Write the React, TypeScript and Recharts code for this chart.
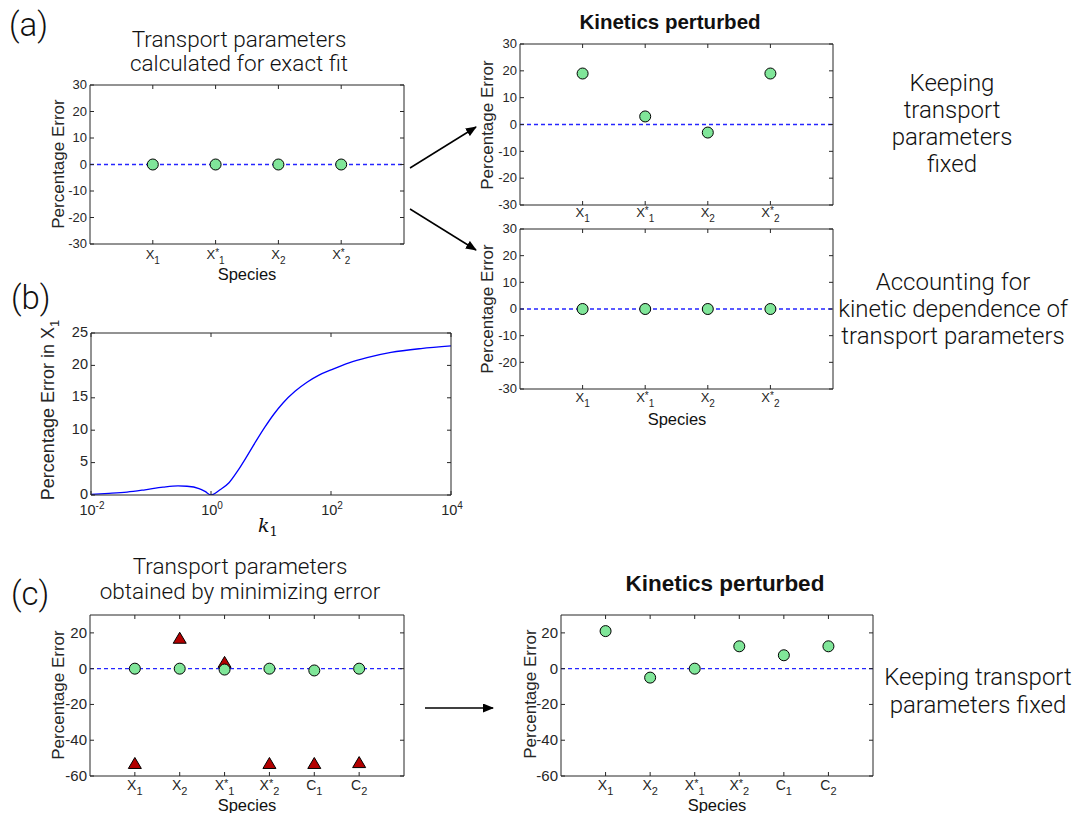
import React from 'react';
import { ComposedChart, Scatter, Line, XAxis, YAxis, ReferenceLine } from 'recharts';

// species labels ("_" separates the subscript, "*" is a superscript star)
const SPECIES_A = ['X_1', 'X*_1', 'X_2', 'X*_2'];
const SPECIES_C = ['X_1', 'X_2', 'X*_1', 'X*_2', 'C_1', 'C_2'];

// (a) percentage errors
const ERR_EXACT_FIT = [0, 0, 0, 0];
const ERR_FIXED_TRANSPORT = [19, 3, -3, 19];
const ERR_KINETIC_DEP = [0, 0, 0, 0];

// (b) percentage error in X1 vs k1 (log10 of k1)
const K1_EXP = [-2, -1.7, -1.4, -1.1, -0.8, -0.55, -0.4, -0.2, -0.1, 0, 0.15, 0.3, 0.45, 0.6, 0.75, 0.9, 1.05, 1.2, 1.4, 1.6, 1.8, 2.0, 2.3, 2.6, 3.0, 3.5, 4.0];
const ERR_X1 = [0.1, 0.25, 0.45, 0.8, 1.2, 1.4, 1.35, 1.0, 0.55, 0, 0.8, 1.9, 3.8, 6.0, 8.3, 10.5, 12.5, 14.2, 16.0, 17.4, 18.5, 19.3, 20.4, 21.2, 22.0, 22.6, 23.0];
const K1_TICKS = [0.01, 1, 100, 10000];

// (c) percentage errors
const ERR_MIN_CIRCLES = [0, 0, -0.5, 0, -1, 0];
const ERR_MIN_TRIANGLES = [-53, 17, 3.5, -53, -53, -52.5];
const ERR_C_FIXED = [21, -5, 0, 12.5, 7.5, 12.5];

const Y_TICKS_A = [-30, -20, -10, 0, 10, 20, 30];
const Y_TICKS_B = [0, 5, 10, 15, 20, 25];
const Y_TICKS_C = [-60, -40, -20, 0, 20];

const TICK_FONT = '"Liberation Sans", Arial, Helvetica, sans-serif';
const LIGHT_FONT = 'Roboto, "Liberation Sans", sans-serif';
const INK = '#262626';
const GREEN = '#80E699';
const DARK_RED = '#B30000';
const DASH_BLUE = '#2525ff';

const toPoints = (vals: number[]) => vals.map((v, i) => ({ x: i + 1, y: v }));

function CatTick(props: any) {
  const { x, y, payload, labels, fontSize, gap } = props;
  const lab = labels[payload.value - 1];
  if (!lab) return null;
  const [base, sub] = lab.split('_');
  const star = base.endsWith('*');
  const letter = star ? base.slice(0, -1) : base;
  const small = Math.round(fontSize * 0.78);
  return (
    <g>
      <line x1={x} y1={y} x2={x} y2={y - 4} stroke={INK} />
      <text x={x} y={y + gap} textAnchor="middle" fontSize={fontSize} fill={INK} fontFamily={TICK_FONT}>
        <tspan>{letter}</tspan>
        {star && <tspan dy={-3} fontSize={small}>*</tspan>}
        <tspan dy={star ? 8 : 5} fontSize={small}>{sub}</tspan>
      </text>
    </g>
  );
}

function LogTick(props: any) {
  const { x, y, payload } = props;
  const e = Math.round(Math.log10(payload.value));
  return (
    <g>
      <line x1={x} y1={y} x2={x} y2={y - 4} stroke={INK} />
      <text x={x + 1} y={y + 19.5} textAnchor="middle" fontSize={14.5} fill={INK} fontFamily={TICK_FONT}>
        <tspan>10</tspan>
        <tspan dy={-6} fontSize={10}>{e}</tspan>
      </text>
    </g>
  );
}

function LeftTick(props: any) {
  const { x, y, payload, fontSize, dy = '0.33em' } = props;
  return (
    <g>
      <line x1={x} y1={y} x2={x + 4} y2={y} stroke={INK} />
      <text x={x - 3} y={y} dy={dy} textAnchor="end" fontSize={fontSize} fill={INK} fontFamily={TICK_FONT}>
        {payload.value}
      </text>
    </g>
  );
}

const RightTick = (props: any) => (
  <line x1={props.x} y1={props.y} x2={props.x - 4} y2={props.y} stroke={INK} />
);
const TopTick = (props: any) => (
  <line x1={props.x} y1={props.y} x2={props.x} y2={props.y + 4} stroke={INK} />
);

const Circle = (p: any) => (
  <circle cx={p.cx} cy={p.cy} r={5.5} fill={GREEN} stroke="#000" strokeWidth={1} />
);
const Triangle = (p: any) => (
  <path d={`M${p.cx},${p.cy - 6} L${p.cx + 6.5},${p.cy + 5} L${p.cx - 6.5},${p.cy + 5} Z`} fill={DARK_RED} stroke="#000" strokeWidth={1} />
);
const NoShape = () => null;

// box frame: bottom + top x axes, left + right y axes, ticks pointing inward
function frame(opts: {
  labels?: string[];
  yDomain: number[];
  yTicks: number[];
  fontSize: number;
  catFont?: number;
  catGap?: number;
  log?: boolean;
  yKey: string;
  yDy?: string;
}) {
  const { labels, yDomain, yTicks, fontSize, catFont = 13, catGap = 14, log, yKey, yDy } = opts;
  const xProps: any = log
    ? { type: 'number', scale: 'log', dataKey: 'k', domain: [0.01, 10000], ticks: K1_TICKS }
    : { type: 'number', dataKey: 'x', domain: [0, labels!.length + 1], ticks: labels!.map((_, i) => i + 1) };
  const axisLine = { stroke: INK, strokeWidth: 1 };
  const common: any = { interval: 0, tickSize: 0, tickMargin: 0, tickLine: false, axisLine, allowDataOverflow: true };
  return [
    <XAxis key="xb" xAxisId="b" orientation="bottom" height={45} {...xProps} {...common}
      tick={log ? <LogTick /> : <CatTick labels={labels} fontSize={catFont} gap={catGap} />} />,
    <XAxis key="xt" xAxisId="t" orientation="top" height={1} {...xProps} {...common} tick={<TopTick />} />,
    <YAxis key="yl" yAxisId="l" orientation="left" width={50} type="number" dataKey={yKey}
      domain={yDomain} ticks={yTicks} {...common} tick={<LeftTick fontSize={fontSize} dy={yDy} />} />,
    <YAxis key="yr" yAxisId="r" orientation="right" width={1} type="number" dataKey={yKey}
      domain={yDomain} ticks={yTicks} {...common} tick={<RightTick />} />,
  ];
}

// plot box placed at page coords (L, T) with size W x H
function Box({ L, T, W, H, children, data, padR = 0 }: any) {
  return (
    <div style={{ position: 'absolute', left: L - 50, top: T - 10 }}>
      <ComposedChart width={W + 60 + padR} height={H + 55} data={data}
        margin={{ top: 9, right: 9 + padR, left: 0, bottom: 0 }}>
        {children}
      </ComposedChart>
    </div>
  );
}

const zeroLine = (
  <ReferenceLine key="zero" y={0} xAxisId="b" yAxisId="l" stroke={DASH_BLUE} strokeWidth={1.3} strokeDasharray="4 3" />
);

function CategoryPanel({ L, T, W, H, labels, yDomain, yTicks, fontSize, catFont, catGap, circles, triangles }: any) {
  return (
    <Box L={L} T={T} W={W} H={H}>
      {frame({ labels, yDomain, yTicks, fontSize, catFont, catGap, yKey: 'y' })}
      {zeroLine}
      {/* invisible copy so the top/right frame axes get a domain */}
      <Scatter data={toPoints(circles)} xAxisId="t" yAxisId="r" shape={NoShape} isAnimationActive={false} />
      {triangles && (
        <Scatter data={toPoints(triangles)} xAxisId="b" yAxisId="l" shape={Triangle} isAnimationActive={false} />
      )}
      <Scatter data={toPoints(circles)} xAxisId="b" yAxisId="l" shape={Circle} isAnimationActive={false} />
    </Box>
  );
}

function Txt({ x, y, size, children, anchor = 'middle', weight = 300, font = LIGHT_FONT, ...rest }: any) {
  return (
    <text x={x} y={y} fontSize={size} textAnchor={anchor} fontWeight={weight} fontFamily={font} fill="#111" {...rest}>
      {children}
    </text>
  );
}

function YLabel({ x, y, children, size = 17 }: any) {
  return (
    <text transform={`translate(${x},${y}) rotate(-90)`} textAnchor="middle" fontSize={size} fontFamily={TICK_FONT} fill={INK}>
      {children}
    </text>
  );
}

export default function App() {
  const curve = K1_EXP.map((e, i) => ({ k: Math.pow(10, e), err: ERR_X1[i] }));
  return (
    <div style={{ position: 'absolute', left: 0, top: 0, width: 1072, height: 813, background: '#fff' }}>
      {/* (a) exact fit */}
      <CategoryPanel L={90} T={85} W={314} H={159} labels={SPECIES_A} yDomain={[-30, 30]} yTicks={Y_TICKS_A}
        fontSize={13} catFont={13} catGap={15} circles={ERR_EXACT_FIT} />
      {/* (a) kinetics perturbed, transport fixed */}
      <CategoryPanel L={520} T={44} W={313} H={161} labels={SPECIES_A} yDomain={[-30, 30]} yTicks={Y_TICKS_A}
        fontSize={13} catFont={13} catGap={12} circles={ERR_FIXED_TRANSPORT} />
      {/* (a) kinetics perturbed, kinetic dependence */}
      <CategoryPanel L={520} T={229} W={313} H={160} labels={SPECIES_A} yDomain={[-30, 30]} yTicks={Y_TICKS_A}
        fontSize={13} catFont={13} catGap={13} circles={ERR_KINETIC_DEP} />

      {/* (b) */}
      <Box L={91} T={333} W={360} H={162} data={curve} padR={20}>
        {frame({ yDomain: [0, 25], yTicks: Y_TICKS_B, fontSize: 14.5, log: true, yKey: 'err', yDy: '0.25em' })}
        <Line dataKey="err" xAxisId="t" yAxisId="r" stroke="none" dot={false} isAnimationActive={false} />
        <Line dataKey="err" xAxisId="b" yAxisId="l" type="monotone" stroke="#0000ff" strokeWidth={1.3}
          dot={false} isAnimationActive={false} />
      </Box>

      {/* (c) */}
      <CategoryPanel L={90} T={615} W={314} H={161} labels={SPECIES_C} yDomain={[-60, 30]} yTicks={Y_TICKS_C}
        fontSize={15} catFont={14} catGap={14} circles={ERR_MIN_CIRCLES} triangles={ERR_MIN_TRIANGLES} />
      <CategoryPanel L={561} T={615} W={312} H={161} labels={SPECIES_C} yDomain={[-60, 30]} yTicks={Y_TICKS_C}
        fontSize={15} catFont={14} catGap={14} circles={ERR_C_FIXED} />

      <svg width={1072} height={813} style={{ position: 'absolute', left: 0, top: 0, pointerEvents: 'none' }}>
        <defs>
          <marker id="ah" markerWidth={11} markerHeight={9} refX={10} refY={4.5} orient="auto" markerUnits="userSpaceOnUse">
            <path d="M0,0 L11,4.5 L0,9 Z" fill="#000" />
          </marker>
        </defs>
        <line x1={410} y1={168} x2={476} y2={127} stroke="#000" strokeWidth={1.5} markerEnd="url(#ah)" />
        <line x1={410} y1={209} x2={476} y2={250} stroke="#000" strokeWidth={1.5} markerEnd="url(#ah)" />
        <line x1={425} y1={708} x2={493} y2={708} stroke="#000" strokeWidth={1.5} markerEnd="url(#ah)" />

        <Txt x={9} y={36} size={33} anchor="start">(a)</Txt>
        <Txt x={11} y={309} size={33} anchor="start">(b)</Txt>
        <Txt x={11} y={605} size={33} anchor="start">(c)</Txt>

        <Txt x={239} y={47} size={22.5}>Transport parameters</Txt>
        <Txt x={239} y={71} size={22.5}>calculated for exact fit</Txt>
        <Txt x={670} y={29} size={20.5} weight={700} font={TICK_FONT}>Kinetics perturbed</Txt>

        <Txt x={952} y={91} size={24}>Keeping</Txt>
        <Txt x={952} y={118} size={24}>transport</Txt>
        <Txt x={952} y={145} size={24}>parameters</Txt>
        <Txt x={952} y={172} size={24}>fixed</Txt>

        <Txt x={953} y={290} size={24}>Accounting for</Txt>
        <Txt x={953} y={317} size={24}>kinetic dependence of</Txt>
        <Txt x={953} y={344} size={24}>transport parameters</Txt>

        <Txt x={240} y={574} size={22.5}>Transport parameters</Txt>
        <Txt x={240} y={599} size={22.5}>obtained by minimizing error</Txt>
        <Txt x={725} y={591} size={22.5} weight={700} font={TICK_FONT}>Kinetics perturbed</Txt>
        <Txt x={978} y={685} size={24}>Keeping transport</Txt>
        <Txt x={978} y={713} size={24}>parameters fixed</Txt>

        <YLabel x={64} y={164}>Percentage Error</YLabel>
        <YLabel x={493} y={125}>Percentage Error</YLabel>
        <YLabel x={493} y={309}>Percentage Error</YLabel>
        <YLabel x={54} y={410} size={18}>
          Percentage Error in X<tspan dy={5} fontSize={13}>1</tspan>
        </YLabel>
        <YLabel x={64} y={695}>Percentage Error</YLabel>
        <YLabel x={536} y={694}>Percentage Error</YLabel>

        <Txt x={247} y={280} size={16.5} weight={400} font={TICK_FONT}>Species</Txt>
        <Txt x={677} y={425} size={16.5} weight={400} font={TICK_FONT}>Species</Txt>
        <Txt x={247} y={811} size={16.5} weight={400} font={TICK_FONT}>Species</Txt>
        <Txt x={717} y={811} size={16.5} weight={400} font={TICK_FONT}>Species</Txt>

        <Txt x={268} y={532} size={19} weight={400} font='"DejaVu Serif", "Liberation Serif", serif' fontStyle="italic">
          k<tspan dy={4} fontSize={13} fontStyle="normal">1</tspan>
        </Txt>
      </svg>
    </div>
  );
}
